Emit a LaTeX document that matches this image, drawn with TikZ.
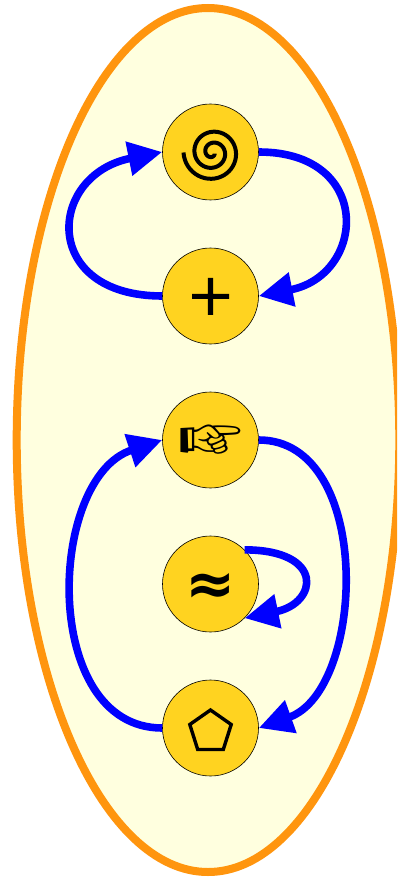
\documentclass[tikz,border=0pt]{standalone}
\usepackage{pifont}
\usepackage{fontspec}
\setmainfont{DejaVu Sans}
\newfontfamily\plusfont[FakeBold=1.5]{Liberation Serif}
\usetikzlibrary{arrows.meta}
\definecolor{outerring}{HTML}{FF950E}
\definecolor{outerfill}{HTML}{FFFFDF}
\definecolor{discfill}{HTML}{FFD320}
\newcommand{\glyphat}[3]{\fontsize{#1}{#1}\selectfont\raisebox{#2pt}[0pt][0pt]{#3}}
\tikzset{
  x=1pt,y=-1pt,
  disc/.style={circle,draw=black,line width=0.6pt,fill=discfill,minimum size=96pt,inner sep=0pt,text=black},
  link/.style={draw=blue,line width=7.6pt,-{Triangle[length=34pt,width=33pt,fill=blue]}},
  ring/.style={draw=outerring,fill=outerfill,line width=8pt},
  glyphline/.style={draw=black,line width=4pt,line cap=butt,line join=miter}
}
\begin{document}
\begin{tikzpicture}
\useasboundingbox (0,0) rectangle (397,877);
\clip (0,0) rectangle (397,877);
\fill[white] (0,0) rectangle (397,877);
\draw[ring] (208,440) ellipse [x radius=191.3pt,y radius=432pt];
\node[disc] (n1) at (210.5,152) {};
\node[disc] (n2) at (210.5,296) {\glyphat{77}{-26}{\plusfont +}};
\node[disc] (n3) at (210.5,440) {\glyphat{69}{-23.5}{\ding{43}}};
\node[disc] (n4) at (210.5,584) {\glyphat{60}{-20.5}{\bfseries ≈}};
\node[disc] (n5) at (210.5,728) {};
\draw[glyphline,shift={(n1.center)}] plot[smooth,domain=0:2.42,samples=120,variable=\t]
  ({2+(29-11*\t)*cos(180-360*\t)},{0.5+(29-11*\t)*sin(180-360*\t)});
\draw[glyphline,line width=3.4pt,shift={(n5.center)}] (0,-18) -- (20.7,-3.5) -- (12.8,21.5) -- (-12.8,21.5) -- (-20.7,-3.5) -- cycle;
\draw[link] (n1.east) .. controls (374,152) and (366,275) .. (n2.east);
\draw[link] (n2.west) .. controls (40,296) and (47,175) .. (n1.west);
\draw[link] (n3.east) .. controls (374,440) and (366,690) .. (n5.east);
\draw[link] (n5.west) .. controls (40,728) and (47,478) .. (n3.west);
\draw[link] (n4.45) .. controls (325,550) and (318,603) .. (n4.-45);
\end{tikzpicture}
\end{document}
